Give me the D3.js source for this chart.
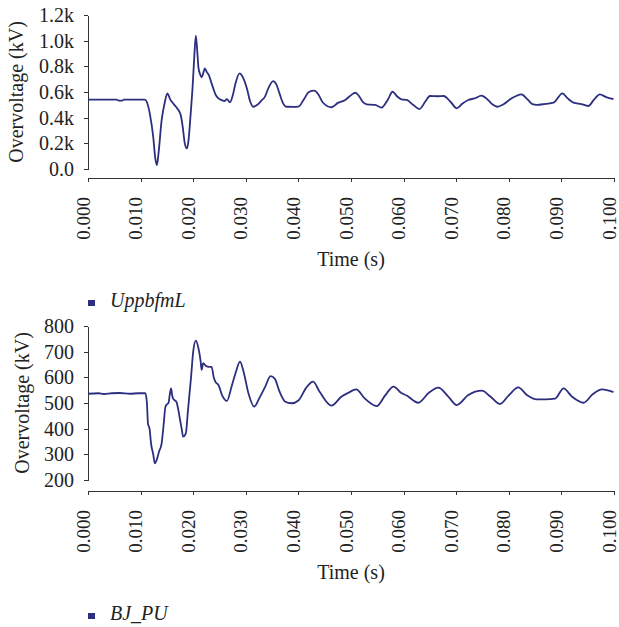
<!DOCTYPE html>
<html>
<meta charset="utf-8">
<style>
    body {
        margin: 0;
        background: #fff;
    }

    .axis path,
    .axis line {
        stroke: #333;
        stroke-width: 1px;
        shape-rendering: crispEdges;
    }

    .axis text {
        font-family: "Liberation Serif", "DejaVu Serif", serif;
        font-size: 20px;
        fill: #222;
    }

    .xaxis text {
        font-size: 19px;
    }

    .title {
        font-family: "Liberation Serif", "DejaVu Serif", serif;
        font-size: 20px;
        fill: #222;
    }

    .legend {
        font-family: "Liberation Serif", "DejaVu Serif", serif;
        font-size: 20px;
        font-style: italic;
        fill: #222;
    }

    .trace {
        fill: none;
        stroke: #2c2e7f;
        stroke-width: 1.8px;
        stroke-linejoin: round;
    }
</style>

<body>
    <script src="https://d3js.org/d3.v7.min.js"></script>
    <script>

        var width = 619,
            height = 627;

        // x ticks, shared by both panels
        var timeTicks = [0, 0.01, 0.02, 0.03, 0.04, 0.05, 0.06, 0.07, 0.08, 0.09, 0.1];

        // top panel: UppbfmL
        var upperName = "UppbfmL";
        var upperTicks = [0, 200, 400, 600, 800, 1000, 1200];
        var upperTickLabels = ["0.0", "0.2k", "0.4k", "0.6k", "0.8k", "1.0k", "1.2k"];
        var upperTime = [0, 0.001, 0.003, 0.0055, 0.0058, 0.0065, 0.0068, 0.0095, 0.0108, 0.0112,
            0.0118, 0.0124, 0.0128, 0.0131, 0.0134, 0.014, 0.0146, 0.0151, 0.0156, 0.0162,
            0.017, 0.0176, 0.018, 0.0184, 0.0188, 0.0191, 0.0195, 0.0199, 0.0202, 0.0205,
            0.0208, 0.021, 0.0213, 0.0216, 0.0219, 0.0222, 0.0226, 0.023, 0.0234, 0.0238,
            0.0243, 0.0248, 0.0255, 0.026, 0.0264, 0.027, 0.0275, 0.028, 0.0288, 0.0295,
            0.0302, 0.0308, 0.0314, 0.0322, 0.033, 0.0336, 0.0343, 0.0352, 0.0358, 0.0364,
            0.037, 0.0378, 0.039, 0.04, 0.041, 0.042, 0.043, 0.0438, 0.0446, 0.0463,
            0.0475, 0.0489, 0.05, 0.0508, 0.0515, 0.0522, 0.053, 0.0546, 0.0558, 0.057,
            0.0579, 0.0588, 0.0596, 0.0606, 0.0618, 0.063, 0.0642, 0.065, 0.0665, 0.0676,
            0.069, 0.0701, 0.0712, 0.0723, 0.0735, 0.0748, 0.076, 0.077, 0.0778, 0.079,
            0.0805, 0.0824, 0.0835, 0.0845, 0.0853, 0.087, 0.0885, 0.0902, 0.0912, 0.0923,
            0.0938, 0.0951, 0.0962, 0.0973, 0.0985, 0.0999];
        var upperVolt = [540, 541, 541, 540, 533, 533, 540, 541, 540, 520,
            420, 250, 80, 30, 120, 380, 520, 590, 545, 510,
            470, 425, 330, 200, 160, 220, 420, 650, 870, 1040,
            900, 790, 740, 715, 745, 784, 755, 730, 680, 630,
            575, 550, 535, 530, 545, 520, 570, 660, 745, 710,
            630, 530, 485, 500, 535, 560, 630, 685, 660, 590,
            520, 485, 484, 486, 540, 600, 610, 580, 520, 481,
            515, 538, 575, 594, 570, 525, 504, 499, 478, 540,
            602, 565, 543, 538, 500, 467, 530, 569, 567, 569,
            520, 473, 510, 538, 550, 571, 540, 500, 485, 505,
            550, 582, 545, 505, 499, 508, 517, 590, 550, 517,
            506, 491, 540, 582, 560, 545];

        // bottom panel: BJ_PU
        var lowerName = "BJ_PU";
        var lowerTicks = [200, 300, 400, 500, 600, 700, 800];
        var lowerTickLabels = ["200", "300", "400", "500", "600", "700", "800"];
        var lowerTime = [0, 0.002, 0.003, 0.0045, 0.006, 0.008, 0.0095, 0.0109, 0.0112, 0.0114,
            0.0117, 0.012, 0.0124, 0.0127, 0.013, 0.0135, 0.014, 0.0144, 0.0147, 0.015,
            0.0153, 0.0156, 0.0158, 0.016, 0.0162, 0.0168, 0.0172, 0.0175, 0.0178, 0.0181,
            0.0186, 0.019, 0.0196, 0.02, 0.0205, 0.021, 0.0214, 0.0216, 0.0219, 0.0224,
            0.023, 0.0235, 0.0239, 0.0242, 0.0248, 0.0255, 0.0264, 0.0273, 0.0281, 0.0289,
            0.0296, 0.0305, 0.0316, 0.0326, 0.0337, 0.0347, 0.0355, 0.0364, 0.0375, 0.0387,
            0.04, 0.0415, 0.0428, 0.044, 0.0463, 0.0482, 0.0495, 0.051, 0.0525, 0.0549,
            0.0565, 0.0581, 0.0595, 0.0606, 0.0628, 0.0648, 0.0666, 0.0685, 0.0701, 0.0723,
            0.0749, 0.0765, 0.0783, 0.08, 0.0818, 0.0835, 0.0853, 0.087, 0.0888, 0.0904,
            0.092, 0.0942, 0.096, 0.0977, 0.0999];
        var lowerVolt = [536, 538, 535, 538, 539, 536, 538, 538, 500, 420,
            400, 340, 300, 265, 275, 310, 343, 420, 483, 495,
            500, 540, 557, 530, 516, 505, 470, 434, 400, 369,
            382, 470, 603, 700, 743, 713, 665, 629, 655, 645,
            641, 641, 600, 583, 570, 530, 508, 564, 620, 661,
            620, 538, 486, 520, 564, 605, 595, 545, 505, 499,
            510, 560, 583, 545, 490, 525, 540, 553, 520, 488,
            530, 564, 540, 529, 501, 540, 560, 525, 492, 531,
            548, 525, 496, 530, 561, 530, 514, 514, 517, 557,
            525, 501, 535, 553, 542];

        var svg = d3.select("body").append("svg")
            .attr("width", width)
            .attr("height", height);

        var x = d3.scaleLinear()
            .domain([0, 0.1])
            .range([88, 614]);

        function drawPanel(opts) {
            var y = d3.scaleLinear()
                .domain(opts.domain)
                .range([opts.top + 154, opts.top]);

            var yAxis = d3.axisLeft(y)
                .tickValues(opts.ticks)
                .tickFormat(function (d, i) { return opts.labels[i]; })
                .tickSize(4)
                .tickSizeOuter(0)
                .tickPadding(10);

            svg.append("g")
                .attr("class", "axis")
                .attr("transform", "translate(88,0)")
                .call(yAxis);

            var xAxis = d3.axisBottom(x)
                .tickValues(timeTicks)
                .tickFormat(d3.format(".3f"))
                .tickSize(4)
                .tickSizeOuter(0);

            var gx = svg.append("g")
                .attr("class", "axis xaxis")
                .attr("transform", "translate(0," + opts.axisY + ")")
                .call(xAxis);

            // labels read bottom to top; kept inside the right edge
            gx.selectAll("text")
                .attr("transform", "rotate(-90)")
                .attr("text-anchor", "end")
                .attr("dy", 1)
                .attr("x", -19)
                .attr("y", 0);

            svg.append("text")
                .attr("class", "title")
                .attr("text-anchor", "middle")
                .attr("transform", "translate(" + opts.titleX + "," + (opts.top + 77) + ") rotate(-90)")
                .text("Overvoltage (kV)");

            svg.append("text")
                .attr("class", "title")
                .attr("text-anchor", "middle")
                .attr("x", 351)
                .attr("y", opts.axisY + 88)
                .text("Time (s)");

            var line = d3.line()
                .x(function (d) { return x(d[0]); })
                .y(function (d) { return y(d[1]); })
                .curve(d3.curveMonotoneX);

            svg.append("path")
                .datum(d3.zip(opts.time, opts.volt))
                .attr("class", "trace")
                .attr("d", line);

            svg.append("rect")
                .attr("x", 88)
                .attr("y", opts.axisY + 122)
                .attr("width", 7)
                .attr("height", 6)
                .attr("fill", "#2c2e7f");

            svg.append("text")
                .attr("class", "legend")
                .attr("x", 110)
                .attr("y", opts.axisY + 129)
                .text(opts.name);
        }

        drawPanel({
            top: 15, axisY: 178, titleX: 23,
            domain: [0, 1200], ticks: upperTicks, labels: upperTickLabels,
            time: upperTime, volt: upperVolt, name: upperName
        });

        drawPanel({
            top: 326, axisY: 491, titleX: 29,
            domain: [200, 800], ticks: lowerTicks, labels: lowerTickLabels,
            time: lowerTime, volt: lowerVolt, name: lowerName
        });

    </script>

</body>
</html>
